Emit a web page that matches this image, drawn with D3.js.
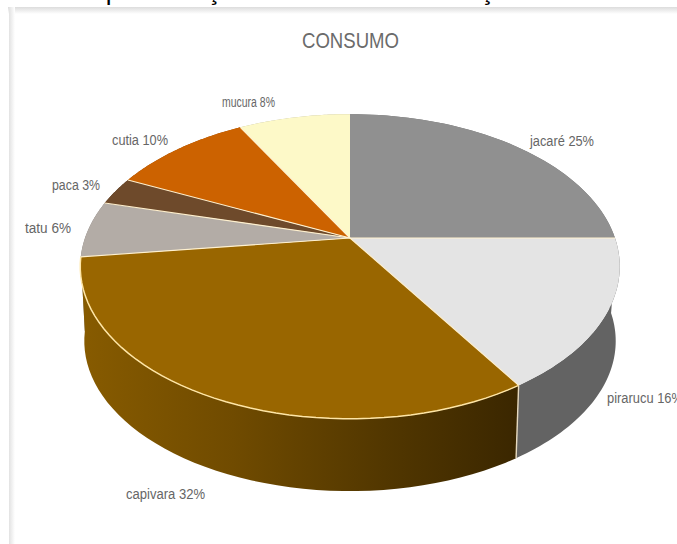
<!DOCTYPE html>
<html lang="pt">
<head>
<meta charset="utf-8">
<title>Consumo</title>
<script src="https://cdn.jsdelivr.net/npm/d3@7/dist/d3.min.js"></script>
<style>
  html, body { margin: 0; padding: 0; background: #fff; }
  svg { display: block; }
</style>
</head>
<body>
<svg id="chart" width="677" height="544"></svg>
<script>
// Consumption shares per species, clockwise from twelve o'clock.
const categories = ["jacaré", "pirarucu", "capivara", "tatu", "paca", "cutia", "mucura"];
const shares = [25, 16, 32, 6, 3, 10, 8];
const topColors = ["#909090", "#e4e4e4", "#996600", "#b3aca6", "#6e4a2b", "#cc6200", "#fdf9c8"];
const sideColors = ["#6e6e6e", "#636363", "url(#capivaraSide)", "#807a76", "#4a321c", "#8f4500", "#b3af90"];
const heading = "CONSUMO";
const pageHeading = "1 - Representação do Consumo da Caça do";

// Drawing order of the side walls: the capivara wall goes last, it sits in front.
const sideOrder = [4, 5, 6, 0, 3, 1, 2];

// Tilted disc: plane coordinates are pushed through a perspective divide.
const cx = 350, cy = 238;
const tilt = 0.187, radius = 265, depthScale = 147;
const wallHeight = 75, baseShrink = 0.985;

function project(angle, r = 1, drop = 0, shrink = 1) {
  const X = Math.sin(angle) * r, Y = -Math.cos(angle) * r;
  const d = 1 - tilt * Y;
  return [cx + shrink * radius * X / d, cy + drop + shrink * depthScale * Y / d];
}

const svg = d3.select("#chart");
const defs = svg.append("defs");

const wall = defs.append("linearGradient")
  .attr("id", "capivaraSide")
  .attr("gradientUnits", "userSpaceOnUse")
  .attr("x1", 80).attr("x2", 515).attr("y1", 0).attr("y2", 0);
wall.append("stop").attr("offset", 0).attr("stop-color", "#875b00");
wall.append("stop").attr("offset", 0.35).attr("stop-color", "#704b00");
wall.append("stop").attr("offset", 0.7).attr("stop-color", "#523700");
wall.append("stop").attr("offset", 1).attr("stop-color", "#3b2700");

const fadeDown = defs.append("linearGradient")
  .attr("id", "frameTop").attr("x1", 0).attr("x2", 0).attr("y1", 0).attr("y2", 1);
fadeDown.append("stop").attr("offset", 0).attr("stop-color", "#dcdcdc");
fadeDown.append("stop").attr("offset", 1).attr("stop-color", "#ffffff");
const fadeRight = defs.append("linearGradient")
  .attr("id", "frameLeft").attr("x1", 0).attr("x2", 1).attr("y1", 0).attr("y2", 0);
fadeRight.append("stop").attr("offset", 0).attr("stop-color", "#e2e2e2");
fadeRight.append("stop").attr("offset", 1).attr("stop-color", "#ffffff");

// Page caption running off the top edge, and the soft frame of the chart box.
svg.append("text")
  .attr("x", 35).attr("y", 0)
  .attr("font-family", "'Liberation Sans', sans-serif")
  .attr("font-size", 26).attr("fill", "#000")
  .text(pageHeading);
svg.append("rect").attr("x", 8).attr("y", 7).attr("width", 669).attr("height", 7).attr("fill", "url(#frameTop)");
svg.append("rect").attr("x", 9).attr("y", 7).attr("width", 6).attr("height", 537).attr("fill", "url(#frameLeft)");

svg.append("text")
  .attr("x", 302).attr("y", 48)
  .attr("font-family", "'Liberation Sans', sans-serif")
  .attr("font-size", 22).attr("fill", "#6b6b6b")
  .attr("textLength", 97).attr("lengthAdjust", "spacingAndGlyphs")
  .text(heading);

const slices = d3.pie().sort(null).startAngle(0).endAngle(2 * Math.PI)(shares);
const line = d3.line();
const arcAngles = (s) => d3.range(0, 49).map(i => s.startAngle + (s.endAngle - s.startAngle) * i / 48);

// Side walls: top rim followed by the reversed rim of the base.
svg.append("g").selectAll("path")
  .data(sideOrder)
  .join("path")
  .attr("d", i => {
    const a = arcAngles(slices[i]);
    const upper = a.map(t => project(t));
    const lower = a.slice().reverse().map(t => project(t, 1, wallHeight, baseShrink));
    return line(upper.concat(lower)) + "Z";
  })
  .attr("fill", i => sideColors[i]);

// Seam on the wall between pirarucu and capivara.
const seam = slices[1].endAngle;
svg.append("path")
  .attr("d", line([project(seam), project(seam, 1, wallHeight, baseShrink)]))
  .attr("stroke", "#e6d9c0").attr("stroke-width", 1.4).attr("fill", "none");

// Top face, one wedge per species.
svg.append("g").selectAll("path")
  .data(slices)
  .join("path")
  .attr("d", s => line([[cx, cy]].concat(arcAngles(s).map(t => project(t)))) + "Z")
  .attr("fill", (s, i) => topColors[i]);

// Pale separators between wedges; the boundary at twelve o'clock stays unmarked.
svg.append("g").selectAll("path")
  .data(slices.slice(0, -1))
  .join("path")
  .attr("d", s => line([[cx, cy], project(s.endAngle)]))
  .attr("fill", "none").attr("stroke", "#fff1cf").attr("stroke-width", 1.1);

// Rim highlight along the front of the capivara wedge.
svg.append("path")
  .attr("d", line(arcAngles(slices[2]).map(t => project(t))))
  .attr("fill", "none").attr("stroke", "#ffe6a6").attr("stroke-width", 1.5);

// Outside-end data labels, placed by hand as the chart author did.
const labelAnchors = [[530, 146], [607, 403], [126, 499], [25, 233], [52, 190], [112, 145], [222, 107]];
const labelWidths = [64, 76, 79, 46, 48, 56, 53];
svg.append("g").selectAll("text")
  .data(categories)
  .join("text")
  .attr("x", (d, i) => labelAnchors[i][0])
  .attr("y", (d, i) => labelAnchors[i][1])
  .attr("font-family", "'Liberation Sans', sans-serif")
  .attr("font-size", 14).attr("fill", "#666")
  .attr("textLength", (d, i) => labelWidths[i])
  .attr("lengthAdjust", "spacingAndGlyphs")
  .text((d, i) => `${d} ${shares[i]}%`);
</script>
</body>
</html>
